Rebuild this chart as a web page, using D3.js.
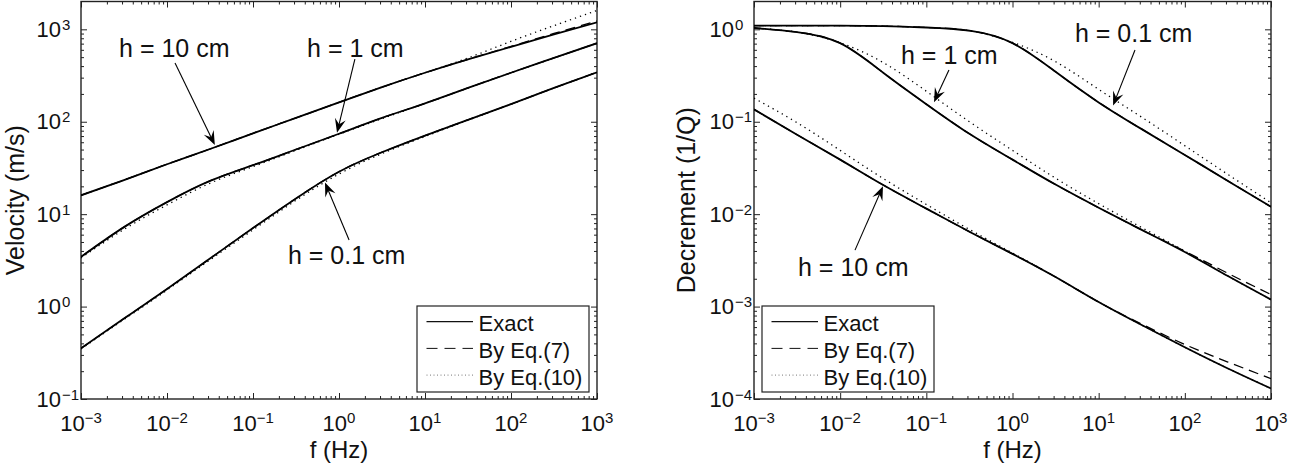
<!DOCTYPE html>
<html><head><meta charset="utf-8">
<script src="https://cdn.jsdelivr.net/npm/d3@7"></script>
<style>
body{margin:0;background:#fff}
svg{display:block}
text{font-family:"Liberation Sans",Arial,Helvetica,sans-serif;fill:#111}
</style>
</head><body>
<svg id="c" width="1289" height="464"></svg>
<script>
// ---------- data ----------
const freq = [0.001, 0.00316, 0.01, 0.0316, 0.1, 0.316, 1, 3.16, 10, 31.6, 100, 316, 1000];

// Velocity (m/s)
const velH10Exact = [16.0, 23.4, 34.7, 50.7, 75.0, 110, 162, 237, 339, 473, 646, 881, 1190];
const velH10Eq7   = [16.0, 23.4, 34.7, 50.7, 75.0, 110, 162, 237, 339, 473, 653, 902, 1230];
const velH10Eq10  = [16.0, 23.4, 34.7, 50.7, 75.0, 110, 162, 237, 339, 490, 741, 1096, 1600];
const velH1Exact  = [3.45, 7.24, 13.5, 22.9, 33.9, 50.1, 74.1, 110, 158, 232, 339, 490, 708];
const velH1Eq7    = [3.45, 7.24, 13.5, 22.9, 33.9, 50.1, 74.1, 110, 158, 232, 339, 490, 708];
const velH1Eq10   = [3.35, 6.84, 12.6, 21.6, 32.7, 49.0, 73.3, 108, 158, 232, 339, 490, 708];
const velH01Exact = [0.353, 0.741, 1.55, 3.31, 7.08, 14.8, 28.8, 46.8, 70.8, 105, 155, 232, 343];
const velH01Eq7   = [0.353, 0.741, 1.55, 3.31, 7.08, 14.8, 28.8, 46.8, 70.8, 105, 155, 232, 343];
const velH01Eq10  = [0.347, 0.724, 1.51, 3.20, 6.76, 14.1, 27.2, 45.2, 69.2, 104, 155, 232, 343];

// Decrement (1/Q)
const decH01Exact = [1.096, 1.096, 1.096, 1.084, 1.047, 0.966, 0.708, 0.347, 0.162, 0.0832, 0.0437, 0.0229, 0.0120];
const decH01Eq7   = [1.096, 1.096, 1.096, 1.084, 1.047, 0.966, 0.708, 0.347, 0.162, 0.0832, 0.0437, 0.0229, 0.0120];
const decH01Eq10  = [1.096, 1.096, 1.096, 1.084, 1.047, 0.966, 0.724, 0.447, 0.224, 0.112, 0.0550, 0.0269, 0.0133];
const decH1Exact  = [1.035, 0.933, 0.708, 0.339, 0.155, 0.0741, 0.0389, 0.0209, 0.01175, 0.00676, 0.00389, 0.00214, 0.00119];
const decH1Eq7    = [1.035, 0.933, 0.708, 0.339, 0.155, 0.0741, 0.0389, 0.0209, 0.01175, 0.00676, 0.00398, 0.00229, 0.00135];
const decH1Eq10   = [1.035, 0.933, 0.716, 0.437, 0.214, 0.100, 0.0490, 0.0245, 0.0130, 0.00716, 0.00398, 0.00214, 0.00119];
const decH10Exact = [0.136, 0.0724, 0.0389, 0.02065, 0.01148, 0.00646, 0.00372, 0.00209, 0.00112, 0.000631, 0.000363, 0.000214, 0.000130];
const decH10Eq7   = [0.136, 0.0724, 0.0389, 0.02065, 0.01148, 0.00646, 0.00372, 0.00209, 0.00112, 0.000646, 0.000389, 0.000251, 0.000166];
const decH10Eq10  = [0.180, 0.0977, 0.0490, 0.0243, 0.01274, 0.00684, 0.00380, 0.00209, 0.00112, 0.000631, 0.000363, 0.000214, 0.000130];

// ticks
const xTicks = [1e-3, 1e-2, 1e-1, 1, 1e1, 1e2, 1e3];
const xTickExp = ["\u22123", "\u22122", "\u22121", "0", "1", "2", "3"];
const velTicks = [0.1, 1, 10, 100, 1000];
const velTickExp = ["\u22121", "0", "1", "2", "3"];
const decTicks = [1e-4, 1e-3, 1e-2, 1e-1, 1];
const decTickExp = ["\u22124", "\u22123", "\u22122", "\u22121", "0"];

const legendLabels = ["Exact", "By Eq.(7)", "By Eq.(10)"];

// annotations in data coordinates [f, value]
const velAnnotations = [
  {label: "h = 10 cm",  textAt: [0.00277, 502], tail: [0.0124, 432], tip: [0.036, 56]},
  {label: "h = 1 cm",   textAt: [0.425, 502],   tail: [1.53, 477],   tip: [0.948, 76]},
  {label: "h = 0.1 cm", textAt: [0.255, 2.88],  tail: [1.31, 5.25],  tip: [0.687, 22]}
];
const decAnnotations = [
  {label: "h = 0.1 cm", textAt: [5.31, 0.729],     tail: [26.4, 0.597],     tip: [14.7, 0.15]},
  {label: "h = 1 cm",   textAt: [0.0508, 0.421],   tail: [0.183, 0.363],    tip: [0.1227, 0.163]},
  {label: "h = 10 cm",  textAt: [0.00324, 0.00214], tail: [0.01486, 0.00408], tip: [0.0314, 0.0200]}
];

// ---------- drawing ----------
const svg = d3.select("#c");
const TOP = 1.5, BOTTOM = 399;
const styles = {
  exact: {w: 1.8, dash: null},
  eq7:   {w: 1.3, dash: "10,6"},
  eq10:  {w: 1.3, dash: "1.3,4"}
};

function minorTicks(domain) {
  const [a, b] = domain, out = [];
  for (let e = Math.floor(Math.log10(a)); e < Math.ceil(Math.log10(b)); e++)
    for (let k = 2; k <= 9; k++) {
      const v = k * Math.pow(10, e);
      if (v > a * 1.0001 && v < b * 0.9999) out.push(v);
    }
  return out;
}

function panel(cfg) {
  const x = d3.scaleLog().domain([1e-3, 1e3]).range([cfg.left, cfg.right]);
  const y = d3.scaleLog().domain(cfg.yDomain).range([BOTTOM, TOP]);
  const g = svg.append("g");

  svg.append("clipPath").attr("id", cfg.id + "clip")
    .append("rect").attr("x", cfg.left).attr("y", TOP)
    .attr("width", cfg.right - cfg.left).attr("height", BOTTOM - TOP);

  // ticks on all four sides, inward
  const xMinor = minorTicks(x.domain()), yMinor = minorTicks(y.domain());
  const axes = [
    [d3.axisBottom(x), xTicks, xMinor, `translate(0,${BOTTOM})`],
    [d3.axisTop(x), xTicks, xMinor, `translate(0,${TOP})`],
    [d3.axisLeft(y), cfg.yTicks, yMinor, `translate(${cfg.left},0)`],
    [d3.axisRight(y), cfg.yTicks, yMinor, `translate(${cfg.right},0)`]
  ];
  axes.forEach(([ax, maj, min, tr]) => {
    [[maj, -6], [min, -3]].forEach(([vals, sz]) => {
      const a = g.append("g").attr("transform", tr)
        .call(ax.tickValues(vals).tickSize(sz).tickFormat(""));
      a.select(".domain").remove();
      a.selectAll(".tick line").attr("stroke", "#222").attr("stroke-width", 1);
    });
  });

  // box
  g.append("rect").attr("x", cfg.left).attr("y", TOP)
    .attr("width", cfg.right - cfg.left).attr("height", BOTTOM - TOP)
    .attr("fill", "none").attr("stroke", "#222").attr("stroke-width", 1.4);

  // x tick labels
  xTicks.forEach((t, i) => {
    const tx = g.append("text").attr("x", x(t)).attr("y", 431)
      .attr("text-anchor", "middle").style("font-size", "22px");
    tx.append("tspan").text("10");
    tx.append("tspan").attr("dy", -8).style("font-size", "15px").text(xTickExp[i]);
  });
  // y tick labels
  cfg.yTicks.forEach((t, i) => {
    const yy = y(t) + 7.5;
    g.append("text").attr("x", cfg.left - 20).attr("y", yy)
      .attr("text-anchor", "end").style("font-size", "22px").text("10");
    g.append("text").attr("x", cfg.left - 19).attr("y", yy - 7)
      .attr("text-anchor", "start").style("font-size", "15px").text(cfg.yTickExp[i]);
  });

  // axis titles
  g.append("text").attr("x", (cfg.left + cfg.right) / 2).attr("y", 458)
    .attr("text-anchor", "middle").style("font-size", "24px").text("f (Hz)");
  g.append("text")
    .attr("transform", `translate(${cfg.left - cfg.yTitleOffset},${(TOP + BOTTOM) / 2}) rotate(-90)`)
    .attr("text-anchor", "middle").style("font-size", "25px").text(cfg.yTitle);

  // curves
  const line = d3.line().x(d => x(d[0])).y(d => y(d[1])).curve(d3.curveNatural);
  const curves = g.append("g").attr("clip-path", `url(#${cfg.id}clip)`);
  ["eq10", "eq7", "exact"].forEach(kind => {
    cfg.series.filter(s => s.kind === kind).forEach(s => {
      const st = styles[kind];
      curves.append("path")
        .datum(freq.map((f, i) => [f, s.values[i]]))
        .attr("d", line).attr("fill", "none").attr("stroke", "#000")
        .attr("stroke-width", st.w)
        .attr("stroke-dasharray", st.dash)
        .attr("stroke-linejoin", "round");
    });
  });

  // annotations
  cfg.annotations.forEach(a => {
    g.append("text").attr("x", x(a.textAt[0])).attr("y", y(a.textAt[1]))
      .style("font-size", "25px").text(a.label);
    const x1 = x(a.tail[0]), y1 = y(a.tail[1]), x2 = x(a.tip[0]), y2 = y(a.tip[1]);
    const ang = Math.atan2(y2 - y1, x2 - x1) * 180 / Math.PI;
    const L = 14, W = 11;
    const len = Math.hypot(x2 - x1, y2 - y1);
    const ux = (x2 - x1) / len, uy = (y2 - y1) / len;
    g.append("line").attr("x1", x1).attr("y1", y1)
      .attr("x2", x2 - ux * L * 0.6).attr("y2", y2 - uy * L * 0.6)
      .attr("stroke", "#000").attr("stroke-width", 1.1);
    g.append("path")
      .attr("d", `M0,0 L${-L},${W / 2} L${-L * 0.62},0 L${-L},${-W / 2} Z`)
      .attr("transform", `translate(${x2},${y2}) rotate(${ang})`)
      .attr("fill", "#000");
  });

  // legend
  const lw = 172, lh = 86;
  const lx = cfg.legendAt === "right" ? cfg.right - 8 - lw : cfg.left + 8;
  const ly = BOTTOM - 7 - lh;
  const lg = g.append("g");
  lg.append("rect").attr("x", lx).attr("y", ly).attr("width", lw).attr("height", lh)
    .attr("fill", "#fff").attr("stroke", "#222").attr("stroke-width", 1.2);
  ["exact", "eq7", "eq10"].forEach((k, i) => {
    const yy = ly + 15.7 + i * 26.7;
    lg.append("line").attr("x1", lx + 9.5).attr("x2", lx + 56).attr("y1", yy).attr("y2", yy)
      .attr("stroke", k === "eq10" ? "#777" : "#111")
      .attr("stroke-width", k === "exact" ? 1.2 : 1)
      .attr("stroke-dasharray", k === "eq7" ? "11,7" : (k === "eq10" ? "1,2.5" : null));
    lg.append("text").attr("x", lx + 61.5).attr("y", yy + 9.5)
      .style("font-size", "22px").text(legendLabels[i]);
  });
}

panel({
  id: "vel", left: 81, right: 597, yDomain: [0.1, 2000],
  yTicks: velTicks, yTickExp: velTickExp, yTitle: "Velocity (m/s)", yTitleOffset: 57,
  legendAt: "right", annotations: velAnnotations,
  series: [
    {kind: "exact", values: velH10Exact}, {kind: "eq7", values: velH10Eq7}, {kind: "eq10", values: velH10Eq10},
    {kind: "exact", values: velH1Exact},  {kind: "eq7", values: velH1Eq7},  {kind: "eq10", values: velH1Eq10},
    {kind: "exact", values: velH01Exact}, {kind: "eq7", values: velH01Eq7}, {kind: "eq10", values: velH01Eq10}
  ]
});
panel({
  id: "dec", left: 754, right: 1271, yDomain: [1e-4, 2],
  yTicks: decTicks, yTickExp: decTickExp, yTitle: "Decrement (1/Q)", yTitleOffset: 59,
  legendAt: "left", annotations: decAnnotations,
  series: [
    {kind: "exact", values: decH01Exact}, {kind: "eq7", values: decH01Eq7}, {kind: "eq10", values: decH01Eq10},
    {kind: "exact", values: decH1Exact},  {kind: "eq7", values: decH1Eq7},  {kind: "eq10", values: decH1Eq10},
    {kind: "exact", values: decH10Exact}, {kind: "eq7", values: decH10Eq7}, {kind: "eq10", values: decH10Eq10}
  ]
});
</script>
</body></html>
